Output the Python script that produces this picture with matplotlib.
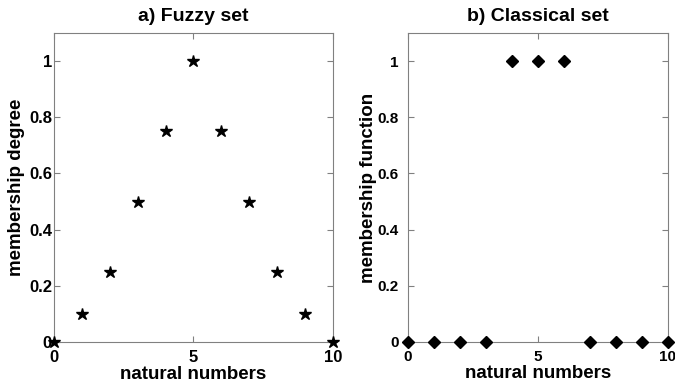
import numpy as np
import matplotlib
matplotlib.use("Agg")
from matplotlib import pyplot as plt

plt.rcParams['font.family'] = ['Liberation Sans', 'DejaVu Sans']
plt.rcParams['font.weight'] = 'bold'

x = [0, 1, 2, 3, 4, 5, 6, 7, 8, 9, 10]
fuzzy = [0, 0.1, 0.25, 0.5, 0.75, 1, 0.75, 0.5, 0.25, 0.1, 0]
classical = [0, 0, 0, 0, 1, 1, 1, 0, 0, 0, 0]
xticks = [0, 5, 10]
yticks = [0, 0.2, 0.4, 0.6, 0.8, 1]
ytick_labels = ['0', '0.2', '0.4', '0.6', '0.8', '1']

fig = plt.figure(figsize=(6.75, 3.89), dpi=100)
ax1 = fig.add_axes([0.080, 0.121, 0.413, 0.794])
ax2 = fig.add_axes([0.604, 0.121, 0.385, 0.794])


def style(ax, title, ylabel, tsize, ypad, lpad):
    ax.set_xlim(0, 10)
    ax.set_ylim(0, 1.1)
    ax.set_xticks(xticks)
    ax.set_xticklabels([str(t) for t in xticks])
    ax.set_yticks(yticks)
    ax.set_yticklabels(ytick_labels)
    ax.tick_params(direction='in', top=True, right=True, length=4,
                   width=0.8, color='#808080', labelsize=tsize)
    ax.tick_params(axis='x', pad=5.5)
    ax.tick_params(axis='y', pad=ypad)
    for s in ax.spines.values():
        s.set_color('#808080')
        s.set_linewidth(0.8)
    ax.set_title(title, fontsize=14, fontweight='bold', pad=9)
    ax.set_xlabel('natural numbers', fontsize=13.5, fontweight='bold', labelpad=1)
    ax.set_ylabel(ylabel, fontsize=13.5, fontweight='bold', labelpad=lpad)


# a) fuzzy set
ax1.plot(x, fuzzy, linestyle='none', marker='*', color='black',
         markersize=9, clip_on=False, zorder=5)
style(ax1, 'a) Fuzzy set', 'membership degree', 12, 1.5, 3)

# b) classical set
ax2.plot(x, classical, linestyle='none', marker='D', color='black',
         markersize=6.5, clip_on=False, zorder=5)
style(ax2, 'b) Classical set', 'membership function', 11, 6.5, 0.5)

fig.savefig('out.png', dpi=100)
